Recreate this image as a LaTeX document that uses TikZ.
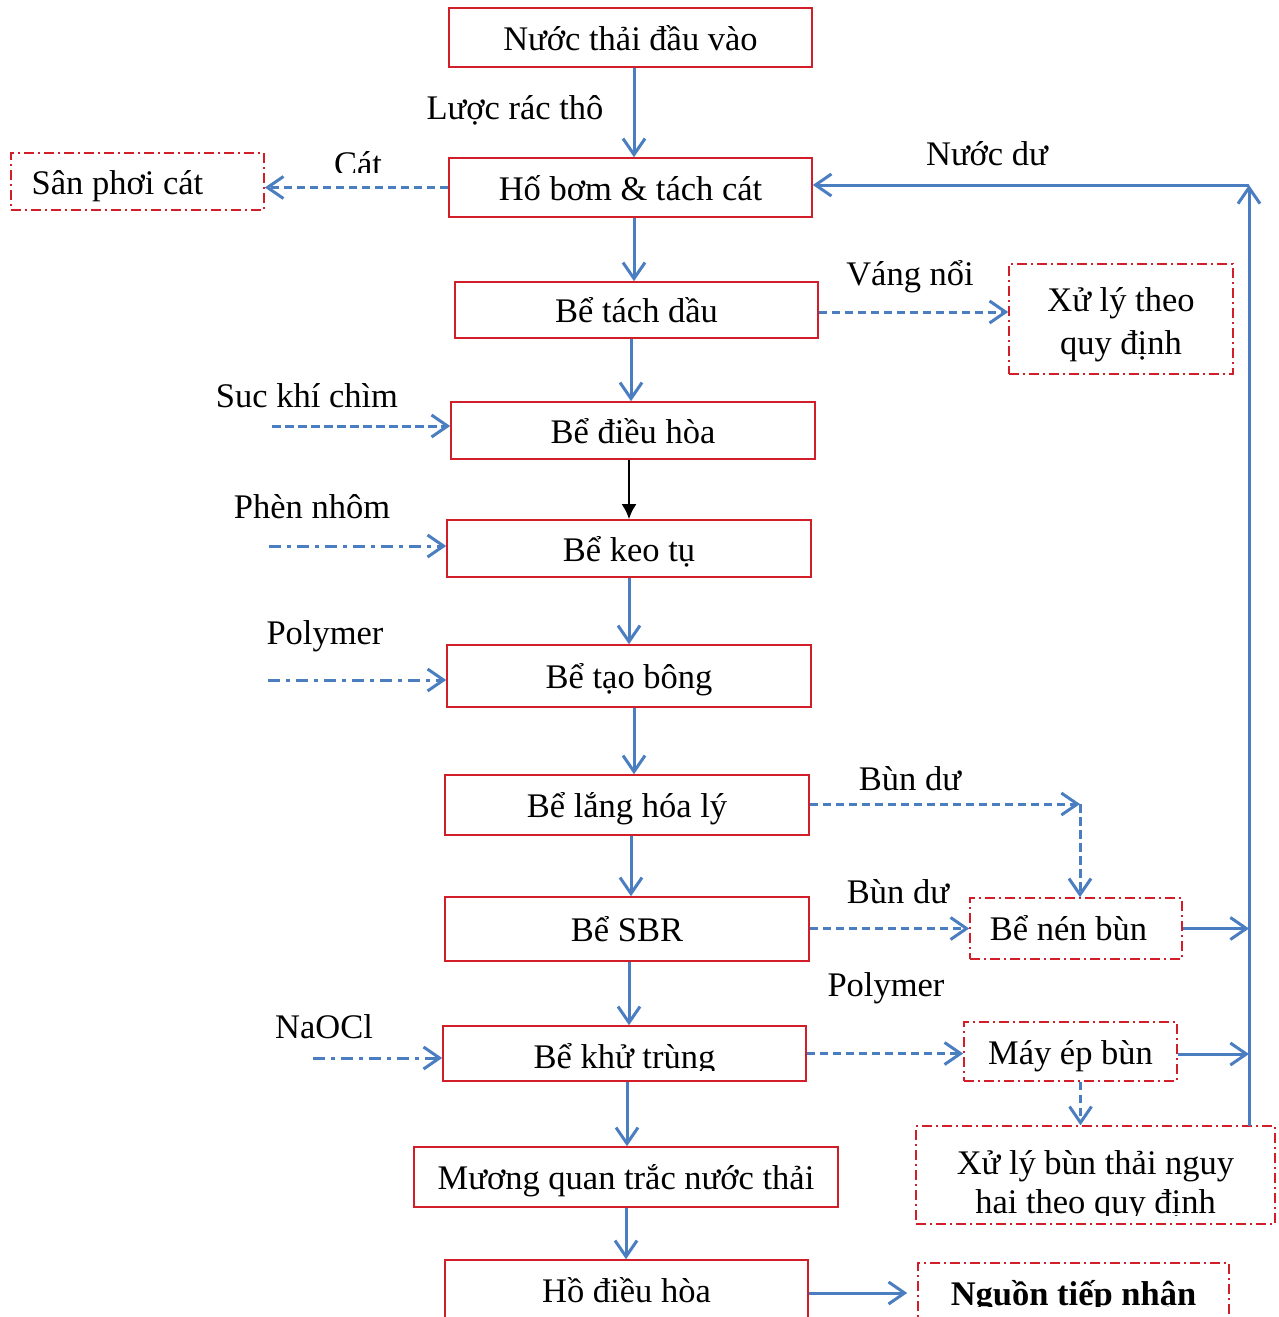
\documentclass[tikz,border=0pt]{standalone}
\usepackage{fontspec}
\setmainfont{Liberation Serif}
\usetikzlibrary{arrows.meta,calc}
\definecolor{flowblue}{RGB}{74,126,193}
\definecolor{boxred}{RGB}{210,30,40}
\tikzset{
  every node/.style={font=\fontsize{34.5}{40}\selectfont, inner sep=0pt},
  sz/.style 2 args={minimum width=#1pt, minimum height=#2pt},
  oneline/.style={text height=25pt, text depth=0pt},
  stage/.style={draw=boxred, line width=1.6pt, rectangle, oneline},
  sidebox/.style={draw=boxred, line width=1.6pt, rectangle, oneline,
    dash pattern=on 10pt off 4pt on 2pt off 4pt},
  flow/.style={draw=flowblue, line width=3pt,
    -{Straight Barb[length=16pt, width=22pt]}},
  dashflow/.style={flow, line width=3pt, dash pattern=on 8.5pt off 4.5pt},
  dotflow/.style={flow, line width=3pt, dash pattern=on 12pt off 6pt on 4pt off 6pt},
  blackflow/.style={draw=black, line width=2.4pt, -{Latex[length=15pt, width=15pt]}},
}
\begin{document}
\begin{tikzpicture}[x=1pt, y=-1pt]
\fill[white] (0,0) rectangle (1278,1317);
\useasboundingbox (0,0) rectangle (1278,1317);

% main treatment line
\node[stage, sz={363}{59}] (inflow)  at (630.5,37.5)  {Nước thải đầu vào};
\node[stage, sz={363}{59}] (pump)    at (630.5,187.5) {Hố bơm \& tách cát};
\node[stage, sz={363}{56}] (oil)     at (636.5,310)   {Bể tách dầu};
\node[stage, sz={364}{57}] (eq)      at (633,430.5)   {Bể điều hòa};
\node[stage, sz={364}{57}] (coag)    at (629,548.5)   {Bể keo tụ};
\node[stage, sz={364}{62}] (floc)    at (629,676)     {Bể tạo bông};
\node[stage, sz={364}{60}] (settle)  at (627,805)     {Bể lắng hóa lý};
\node[stage, sz={364}{64}] (sbr)     at (627,929)     {Bể SBR};
\node[stage, sz={363}{55}] (disinf)  at (624.5,1053.5) {};
\begin{scope}
  \clip (400,1030) rectangle (850,1070);
  \node[oneline] (disinftxt) at (624.5,1055.5) {Bể khử trùng};
\end{scope}
\node[stage, sz={424}{60}] (monitor) at (626,1177)    {Mương quan trắc nước thải};
\node[stage, sz={363}{60}] (pond)    at (626.5,1290)  {Hồ điều hòa};

% side units
\node[sidebox, sz={253}{57}] (sand) at (137.5,181.5) {};
\node[oneline] (sandtxt) at ($(sand)+(-20,0)$) {Sân phơi cát};
\node[sidebox, sz={224}{110}] (treat) at (1121,319) {};
\node[align=center, font=\fontsize{34.5}{43}\selectfont] (treattxt) at (1121,325)
  {Xử lý theo\\quy định};
\node[sidebox, sz={212}{61}] (thick) at (1076,928.5) {};
\node[oneline] (thicktxt) at (1068.5,928) {Bể nén bùn};
\node[sidebox, sz={213}{59}] (press) at (1070.5,1051.5) {Máy ép bùn};
\node[sidebox, sz={359}{98}] (haz) at (1095.5,1175) {};
\begin{scope}
  \clip (920,1130) rectangle (1272,1215);
  \node[align=center, font=\fontsize{34.5}{39}\selectfont] (haztxt) at (1095.5,1186)
    {Xử lý bùn thải nguy\\hai theo quy định};
\end{scope}
\node[sidebox, sz={311}{60}] (receiver) at (1073.5,1293) {};
\begin{scope}
  \clip (920,1266) rectangle (1226,1306);
  \node[oneline, font=\fontsize{34.5}{40}\selectfont\bfseries] (receivertxt)
    at (1073.5,1293) {Nguồn tiếp nhận};
\end{scope}

% labels
\node (lblscreen) at (515,110) {Lược rác thô};
\begin{scope}
  \clip (300,130) rectangle (420,172);
  \node (lblsand) at (358,164) {Cát};
\end{scope}
\node (lblreturn) at (987,154) {Nước dư};
\node (lblscum)   at (910,277) {Váng nổi};
\node (lblair)    at (307,396) {Suc khí chìm};
\node (lblalum)   at (312,507) {Phèn nhôm};
\node (lblpoly1)  at (325,636) {Polymer};
\node (lblsl1)    at (910,779) {Bùn dư};
\node (lblsl2)    at (898,892) {Bùn dư};
\node (lblpoly2)  at (886,988) {Polymer};
\node (lblnaocl)  at (324,1027) {NaOCl};

% free ends of dosing lines and the return riser
\coordinate (airsrc)  at (272,426);
\coordinate (alumsrc) at (269,546);
\coordinate (polysrc) at (268,680);
\coordinate (naoclsrc) at (313,1058);
\coordinate (corner)  at (1080,804);
\coordinate (risetop) at (1249,185);
\coordinate (risebase) at (1249,1126);

% main flow
\draw[flow] ([xshift=3.5pt]inflow.south) -- ([xshift=3.5pt]inflow.south |- pump.north);
\draw[flow] ([xshift=3.5pt]pump.south) -- ([xshift=3.5pt]pump.south |- oil.north);
\draw[flow] ([xshift=-5.5pt]oil.south) -- ([xshift=-5.5pt]oil.south |- eq.north);
\draw[blackflow] ([xshift=-4pt]eq.south) -- ([xshift=-4pt]eq.south |- coag.north);
\draw[flow] (coag.south) -- (coag.south |- floc.north);
\draw[flow] ([xshift=5pt]floc.south) -- ([xshift=5pt]floc.south |- settle.north);
\draw[flow] ([xshift=4pt]settle.south) -- ([xshift=4pt]settle.south |- sbr.north);
\draw[flow] ([xshift=2pt]sbr.south) -- ([xshift=2pt]sbr.south |- disinf.north);
\draw[flow] ([xshift=2.5pt]disinf.south) -- ([xshift=2.5pt]disinf.south |- monitor.north);
\draw[flow] (monitor.south) -- (monitor.south |- pond.north);
\draw[flow, shorten >=10pt] (pond.east |- receiver.west) -- (receiver.west);

% side streams
\draw[dashflow] (pump.west) -- (pump.west -| sand.east);
\draw[dashflow] ([yshift=-2pt]oil.east) -- ([yshift=-2pt]oil.east -| treat.west);
\draw[dashflow] (airsrc) -- (airsrc -| eq.west);
\draw[dotflow] (alumsrc) -- (alumsrc -| coag.west);
\draw[dotflow] (polysrc) -- (polysrc -| floc.west);
\draw[dotflow] (naoclsrc) -- (naoclsrc -| disinf.west);

% sludge line
\draw[dashflow] (settle.east |- corner) -- (corner);
\draw[dashflow] (corner) -- (corner |- thick.north);
\draw[dashflow] (sbr.east |- thick.west) -- (thick.west);
\draw[dashflow] (disinf.east) -- (disinf.east -| press.west);
\draw[dashflow] ([xshift=10pt]press.south) -- ([xshift=10pt]press.south |- haz.north);

% return water
\draw[flow] (thick.east) -- (thick.east -| risetop);
\draw[flow] ([yshift=-2.5pt]press.east) -- ([yshift=-2.5pt]press.east -| risetop);
\draw[flow] (risebase) -- (risetop);
\draw[flow] (risetop) -- (risetop -| pump.east);
\end{tikzpicture}
\end{document}
